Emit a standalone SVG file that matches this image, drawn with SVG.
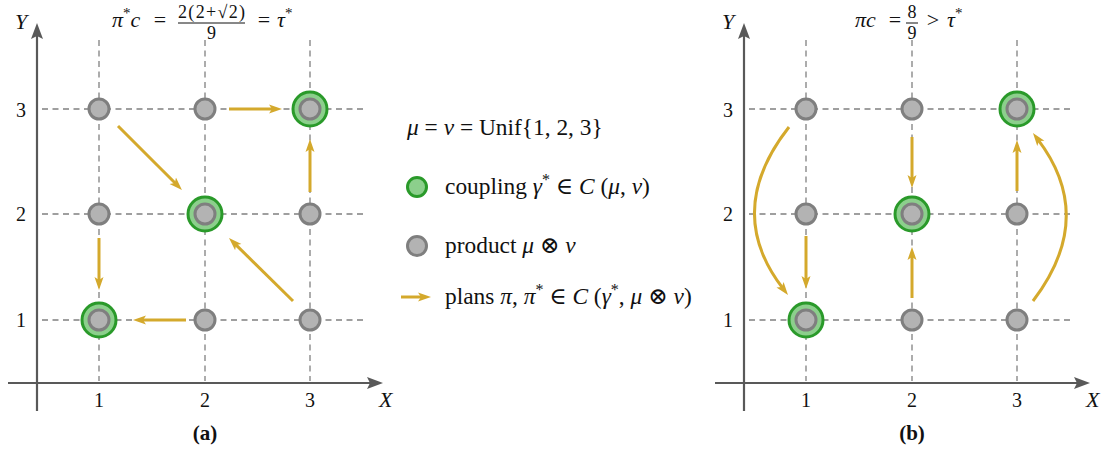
<svg xmlns="http://www.w3.org/2000/svg" width="1115" height="450" viewBox="0 0 1115 450">
<style>
.grid{stroke:#808080;stroke-width:1.3;stroke-dasharray:6 4.5;fill:none}
.axis{stroke:#595959;stroke-width:2.2;fill:none}
.arr{stroke:#d4a92c;stroke-width:3;fill:none;marker-end:url(#ah)}
.gray{fill:#b3b3b3;stroke:#7f7f7f;stroke-width:3}
.ring{fill:#8ccf8c;stroke:#2a9a2a;stroke-width:3}
text{font-family:"Liberation Serif","DejaVu Serif",serif;fill:#111}
.t{font-size:22px}
.lg{font-size:23.4px}
.tk{font-size:20px;text-anchor:middle}
.i{font-style:italic}
.m{text-anchor:middle}
.cap{font-size:21px;font-weight:bold;text-anchor:middle}
</style>
<defs>
<marker id="ah" markerUnits="userSpaceOnUse" markerWidth="13" markerHeight="12" viewBox="0 0 13 12" refX="5" refY="6" orient="auto">
<path d="M0,1.5 L13,6 L0,10.5 L3,6 z" fill="#d4a92c"/>
</marker>
<marker id="axh" markerUnits="userSpaceOnUse" markerWidth="16" markerHeight="14" viewBox="0 0 16 14" refX="4" refY="7" orient="auto">
<path d="M0,1 L16,7 L0,13 L3,7 z" fill="#595959"/>
</marker>
<g id="gn"><circle r="10" class="gray"/></g>
<g id="cn"><circle r="17" class="ring"/><circle r="10" class="gray"/></g>
</defs>

<!-- Panel (a) -->
<g id="gridA">
<line class="grid" x1="42" y1="109" x2="366" y2="109"/>
<line class="grid" x1="42" y1="214" x2="366" y2="214"/>
<line class="grid" x1="42" y1="320" x2="366" y2="320"/>
<line class="grid" x1="99" y1="40" x2="99" y2="381"/>
<line class="grid" x1="205" y1="40" x2="205" y2="381"/>
<line class="grid" x1="310" y1="40" x2="310" y2="381"/>
</g>
<g id="axesA">
<line class="axis" x1="37" y1="411" x2="37" y2="35" marker-end="url(#axh)"/>
<line class="axis" x1="8" y1="383" x2="371" y2="383" marker-end="url(#axh)"/>
<text class="t i" x="15" y="29">Y</text>
<text class="t i" x="379" y="407">X</text>
<text class="tk" x="21" y="117">3</text>
<text class="tk" x="21" y="221">2</text>
<text class="tk" x="21" y="327">1</text>
<text class="tk" x="99" y="407">1</text>
<text class="tk" x="205" y="407">2</text>
<text class="tk" x="310" y="407">3</text>
<text class="cap" x="205" y="440">(a)</text>
</g>
<g id="titleA">
<text class="t" x="112" y="27"><tspan class="i">π</tspan><tspan font-size="15" dy="-9">*</tspan><tspan class="i" dy="9">c</tspan></text>
<text class="t m" x="160" y="27">=</text>
<text x="211.5" y="18" font-size="18" text-anchor="middle" textLength="67" lengthAdjust="spacing">2(2+√2)</text>
<line x1="178" y1="23" x2="245" y2="23" stroke="#111" stroke-width="1"/>
<text x="211.5" y="39" font-size="18" text-anchor="middle">9</text>
<text class="t m" x="264" y="27">=</text>
<text class="t" x="277" y="27"><tspan class="i">τ</tspan><tspan font-size="15" dy="-9">*</tspan></text>
</g>
<g id="connectorsA">
<line class="arr" x1="118" y1="126" x2="176.3" y2="184.3"/>
<line class="arr" x1="229" y1="109" x2="274" y2="109"/>
<line class="arr" x1="310" y1="192" x2="310" y2="147"/>
<line class="arr" x1="99" y1="238" x2="99" y2="282"/>
<line class="arr" x1="186" y1="320" x2="141" y2="320"/>
<line class="arr" x1="293" y1="301" x2="234.7" y2="243.6"/>
</g>
<g id="nodesA">
<use id="a11" href="#cn" x="99" y="320"/>
<use id="a21" href="#gn" x="205" y="320"/>
<use id="a31" href="#gn" x="310" y="320"/>
<use id="a12" href="#gn" x="99" y="214"/>
<use id="a22" href="#cn" x="205" y="214"/>
<use id="a32" href="#gn" x="310" y="214"/>
<use id="a13" href="#gn" x="99" y="109"/>
<use id="a23" href="#gn" x="205" y="109"/>
<use id="a33" href="#cn" x="310" y="109"/>
</g>

<!-- Legend -->
<g id="legend">
<text class="lg" x="407" y="135"><tspan class="i">μ</tspan> = <tspan class="i">ν</tspan> = Unif{1, 2, 3}</text>
<circle cx="417" cy="187" r="9.5" fill="#8ccf8c" stroke="#2a9a2a" stroke-width="3"/>
<text class="lg" x="445" y="194">coupling <tspan class="i">γ</tspan><tspan font-size="16" dy="-9">*</tspan><tspan dy="9"> ∈ </tspan><tspan class="i">C</tspan> (<tspan class="i">μ</tspan>, <tspan class="i">ν</tspan>)</text>
<circle cx="417" cy="246" r="9.5" class="gray"/>
<text class="lg" x="445" y="253">product <tspan class="i">μ</tspan> ⊗ <tspan class="i">ν</tspan></text>
<line class="arr" x1="401" y1="297" x2="423" y2="297"/>
<text class="lg" x="445" y="304">plans <tspan class="i">π</tspan>, <tspan class="i">π</tspan><tspan font-size="16" dy="-9">*</tspan><tspan dy="9"> ∈ </tspan><tspan class="i">C</tspan> (<tspan class="i">γ</tspan><tspan font-size="16" dy="-9">*</tspan><tspan dy="9">, </tspan><tspan class="i">μ</tspan> ⊗ <tspan class="i">ν</tspan>)</text>
</g>

<!-- Panel (b) -->
<g id="gridB">
<line class="grid" x1="749" y1="109" x2="1073" y2="109"/>
<line class="grid" x1="749" y1="214" x2="1073" y2="214"/>
<line class="grid" x1="749" y1="320" x2="1073" y2="320"/>
<line class="grid" x1="806" y1="40" x2="806" y2="381"/>
<line class="grid" x1="912" y1="40" x2="912" y2="381"/>
<line class="grid" x1="1017" y1="40" x2="1017" y2="381"/>
</g>
<g id="axesB">
<line class="axis" x1="744" y1="411" x2="744" y2="35" marker-end="url(#axh)"/>
<line class="axis" x1="715" y1="383" x2="1078" y2="383" marker-end="url(#axh)"/>
<text class="t i" x="722" y="29">Y</text>
<text class="t i" x="1086" y="407">X</text>
<text class="tk" x="728" y="117">3</text>
<text class="tk" x="728" y="221">2</text>
<text class="tk" x="728" y="327">1</text>
<text class="tk" x="806" y="407">1</text>
<text class="tk" x="912" y="407">2</text>
<text class="tk" x="1017" y="407">3</text>
<text class="cap" x="912" y="440">(b)</text>
</g>
<g id="titleB">
<text class="t i" x="855" y="27">πc</text>
<text class="t m" x="895" y="27">=</text>
<text x="912" y="18" font-size="18" text-anchor="middle">8</text>
<line x1="906" y1="23" x2="918" y2="23" stroke="#111" stroke-width="1"/>
<text x="912" y="39" font-size="18" text-anchor="middle">9</text>
<text class="t m" x="933" y="27">&gt;</text>
<text class="t" x="947" y="27"><tspan class="i">τ</tspan><tspan font-size="15" dy="-9">*</tspan></text>
</g>
<g id="connectorsB">
<path class="arr" d="M789,127 Q723,211 783.1,288.7"/>
<path class="arr" d="M1033,301 Q1097,217 1037.8,139.4"/>
<line class="arr" x1="806" y1="236" x2="806" y2="281"/>
<line class="arr" x1="912" y1="137" x2="912" y2="180"/>
<line class="arr" x1="912" y1="298" x2="912" y2="255"/>
<line class="arr" x1="1017" y1="191" x2="1017" y2="148"/>
</g>
<g id="nodesB">
<use id="b11" href="#cn" x="806" y="320"/>
<use id="b21" href="#gn" x="912" y="320"/>
<use id="b31" href="#gn" x="1017" y="320"/>
<use id="b12" href="#gn" x="806" y="214"/>
<use id="b22" href="#cn" x="912" y="214"/>
<use id="b32" href="#gn" x="1017" y="214"/>
<use id="b13" href="#gn" x="806" y="109"/>
<use id="b23" href="#gn" x="912" y="109"/>
<use id="b33" href="#cn" x="1017" y="109"/>
</g>
</svg>
